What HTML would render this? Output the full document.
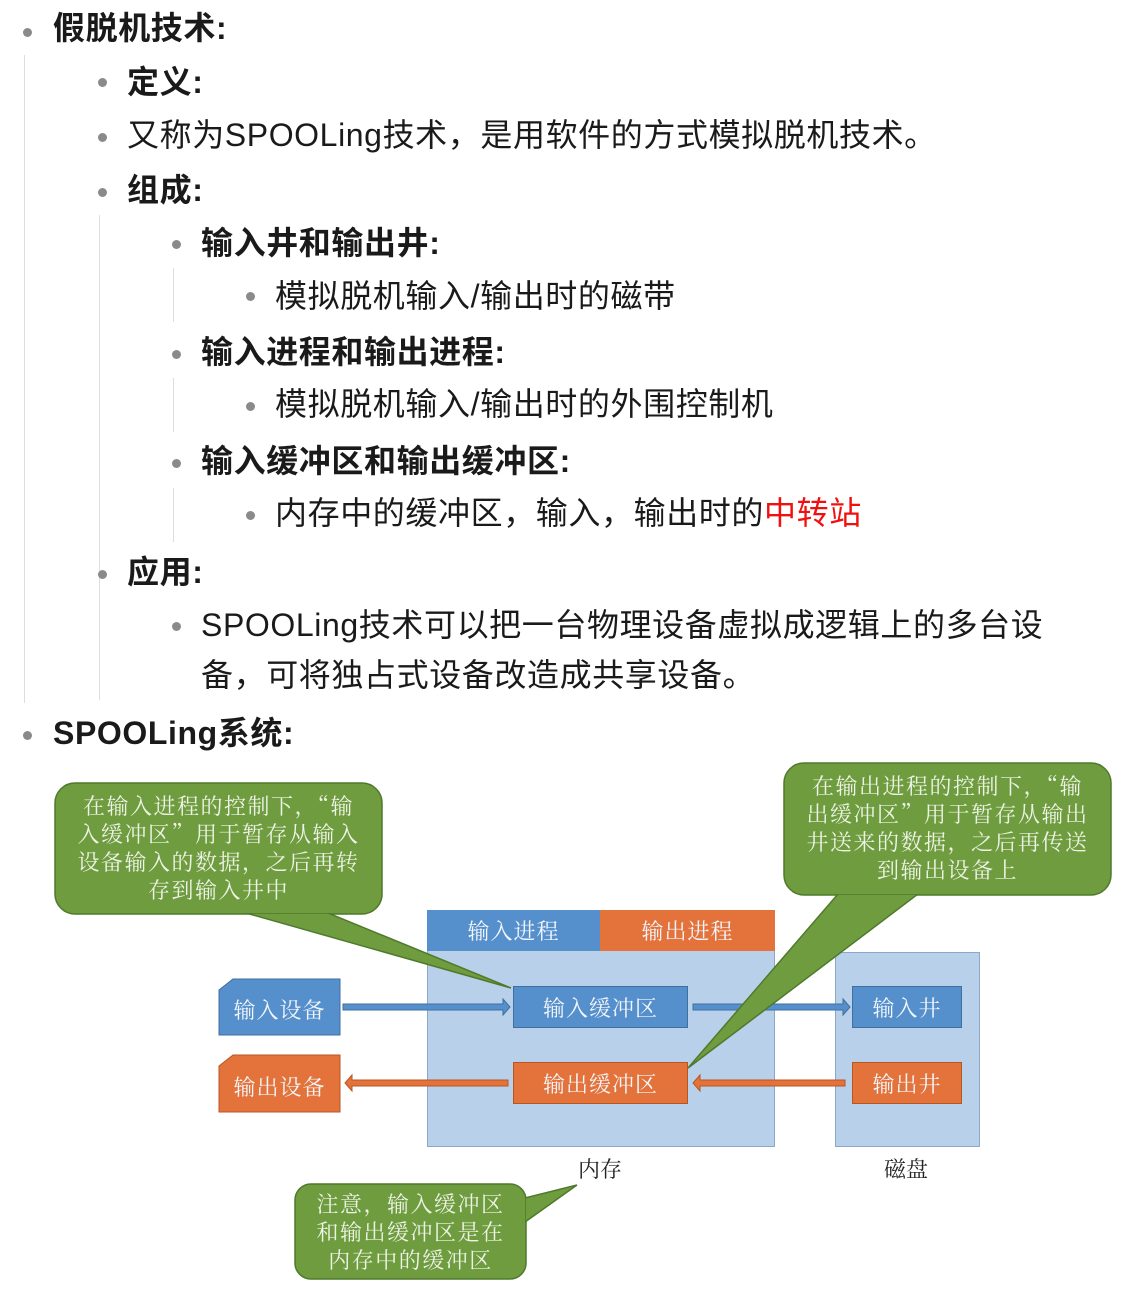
<!DOCTYPE html>
<html><head><meta charset="utf-8"><style>
body{margin:0;width:1143px;height:1306px;background:#fff;position:relative;overflow:hidden;font-family:"Liberation Sans","Noto Sans CJK SC",sans-serif;color:#1a1a1a}
.t{position:absolute;font-size:32px;line-height:40px;white-space:nowrap;letter-spacing:0.6px}
.b{font-weight:bold}
.d{position:absolute;width:9px;height:9px;border-radius:50%;background:#8a8a8a}
.v{position:absolute;width:1px;background:#ddd}
.s{font-family:"Noto Serif CJK SC","WenQuanYi Zen Hei",serif}
.bx{position:absolute;color:#f2f6fb;font-size:22px;display:flex;align-items:center;justify-content:center;box-sizing:border-box;letter-spacing:1px}
.co{position:absolute;color:#edf3e6;font-size:22px;line-height:28px;text-align:center;white-space:nowrap;letter-spacing:1.5px}
</style></head><body>
<div class="v" style="left:24px;top:55px;height:648px"></div>
<div class="v" style="left:99px;top:215px;height:485px"></div>
<div class="v" style="left:173px;top:268px;height:54px"></div>
<div class="v" style="left:173px;top:378px;height:54px"></div>
<div class="v" style="left:173px;top:488px;height:54px"></div>

<div class="d" style="left:23px;top:28px"></div><div class="t b" style="left:53px;top:8px">假脱机技术:</div>
<div class="d" style="left:98px;top:78px"></div><div class="t b" style="left:127px;top:62px">定义:</div>
<div class="d" style="left:98px;top:133px"></div><div class="t" style="left:127px;top:115px">又称为SPOOLing技术，是用软件的方式模拟脱机技术。</div>
<div class="d" style="left:98px;top:188px"></div><div class="t b" style="left:127px;top:170px">组成:</div>
<div class="d" style="left:172px;top:240px"></div><div class="t b" style="left:201px;top:223px">输入井和输出井:</div>
<div class="d" style="left:246px;top:292px"></div><div class="t" style="left:275px;top:276px">模拟脱机输入/输出时的磁带</div>
<div class="d" style="left:172px;top:350px"></div><div class="t b" style="left:201px;top:332px">输入进程和输出进程:</div>
<div class="d" style="left:246px;top:402px"></div><div class="t" style="left:275px;top:384px">模拟脱机输入/输出时的外围控制机</div>
<div class="d" style="left:172px;top:459px"></div><div class="t b" style="left:201px;top:441px">输入缓冲区和输出缓冲区:</div>
<div class="d" style="left:246px;top:511px"></div><div class="t" style="left:275px;top:493px">内存中的缓冲区，输入，输出时的<span style="color:#f01010">中转站</span></div>
<div class="d" style="left:98px;top:570px"></div><div class="t b" style="left:127px;top:552px">应用:</div>
<div class="d" style="left:172px;top:622px"></div><div class="t" style="left:201px;top:605px">SPOOLing技术可以把一台物理设备虚拟成逻辑上的多台设</div>
<div class="t" style="left:201px;top:655px">备，可将独占式设备改造成共享设备。</div>
<div class="d" style="left:23px;top:731px"></div><div class="t b" style="left:53px;top:713px">SPOOLing系统:</div>

<div class="s">
<div style="position:absolute;left:427px;top:910px;width:348px;height:237px;background:#b9d0ea;border:1px solid #8aa8cc;box-sizing:border-box"></div>
<div style="position:absolute;left:835px;top:952px;width:145px;height:195px;background:#b9d0ea;border:1px solid #8aa8cc;box-sizing:border-box"></div>
<div class="bx" style="left:427px;top:910px;width:173px;height:41px;background:#5690cc">输入进程</div>
<div class="bx" style="left:600px;top:910px;width:175px;height:41px;background:#e4733b">输出进程</div>
<div class="bx" style="left:513px;top:986px;width:175px;height:42px;background:#5690cc;border:1px solid #3d6f9f">输入缓冲区</div>
<div class="bx" style="left:513px;top:1062px;width:175px;height:42px;background:#e4733b;border:1px solid #b85620">输出缓冲区</div>
<div class="bx" style="left:852px;top:986px;width:110px;height:42px;background:#5690cc;border:1px solid #3d6f9f">输入井</div>
<div class="bx" style="left:852px;top:1062px;width:110px;height:42px;background:#e4733b;border:1px solid #b85620">输出井</div>
<svg style="position:absolute;left:0;top:0" width="1143" height="1306">
<polygon points="233,1055 340,1055 340,1112 219,1112 219,1066" fill="#e4733b" stroke="#b85620"/>
<g fill="#5690cc" stroke="#3d6f9f" stroke-width="1">
<polygon points="343,1004 503,1004 503,999 510,1007 503,1015 503,1010 343,1010"/>
<polygon points="693,1004 843,1004 843,999 850,1007 843,1015 843,1010 693,1010"/>
</g>
<g fill="#e4733b" stroke="#b85620" stroke-width="1">
<polygon points="508,1080 352,1080 352,1075 345,1083 352,1091 352,1086 508,1086"/>
<polygon points="845,1080 700,1080 700,1075 693,1083 700,1091 700,1086 845,1086"/>
</g>
<g fill="#6f9c3f" stroke="#4f7a2c" stroke-width="1.5">
<rect x="55" y="783" width="327" height="131" rx="20"/>
<polygon points="246,913 511,988 328,913"/>
<rect x="784" y="763" width="327" height="132" rx="20"/>
<polygon points="838,894 688,1068 918,894"/>
<rect x="295" y="1184" width="231" height="95" rx="16"/>
<polygon points="525,1198 577,1185 525,1222"/>
</g>
<g fill="#6f9c3f"><rect x="240" y="905" width="95" height="8"/><rect x="832" y="885" width="92" height="9"/><rect x="518" y="1196" width="7" height="28"/></g>
<polygon points="233,979 340,979 340,1035 219,1035 219,990" fill="#5690cc" stroke="#3d6f9f"/>
</svg>
<div class="bx" style="left:219px;top:983px;width:121px;height:52px">输入设备</div>
<div class="bx" style="left:219px;top:1060px;width:121px;height:52px">输出设备</div>
<div style="position:absolute;left:578px;top:1153px;font-size:22px;color:#222">内存</div>
<div style="position:absolute;left:884px;top:1153px;font-size:22px;color:#222">磁盘</div>
<div class="co" style="left:55px;top:792px;width:327px">在输入进程的控制下，“输<br>入缓冲区”用于暂存从输入<br>设备输入的数据，之后再转<br>存到输入井中</div>
<div class="co" style="left:784px;top:772px;width:327px">在输出进程的控制下，“输<br>出缓冲区”用于暂存从输出<br>井送来的数据，之后再传送<br>到输出设备上</div>
<div class="co" style="left:295px;top:1190px;width:231px">注意，输入缓冲区<br>和输出缓冲区是在<br>内存中的缓冲区</div>
</div>
</body></html>
